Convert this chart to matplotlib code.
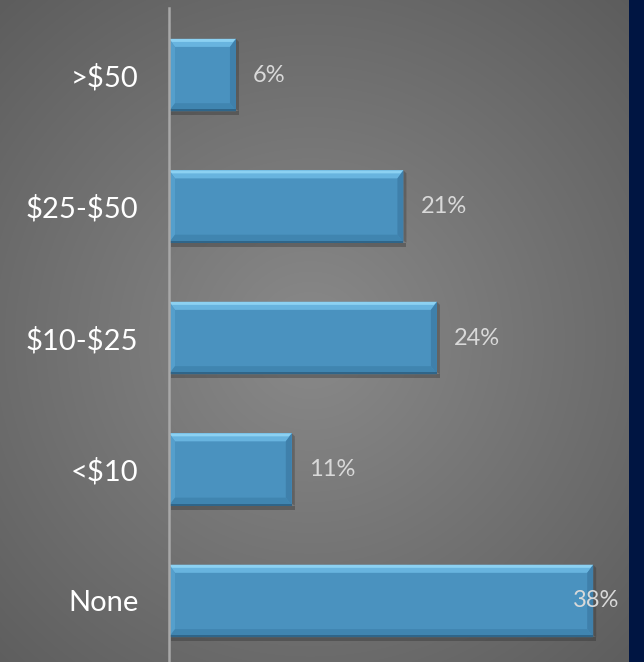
import matplotlib
matplotlib.use("Agg")
import matplotlib.pyplot as plt
import numpy as np
from matplotlib.patches import Polygon

categories = ["None", "<$10", "$10-$25", "$25-$50", ">$50"]
values = [38, 11, 24, 21, 6]
labels = ["38%", "11%", "24%", "21%", "6%"]

plt.rcParams['font.family'] = ['Lato', 'DejaVu Sans']

W, H = 644, 662
fig = plt.figure(figsize=(W / 100, H / 100), dpi=100)

# background: radial grey gradient + navy strip on the right
bg = fig.add_axes([0, 0, 1, 1])
yy, xx = np.mgrid[0:H, 0:W]
r = np.sqrt(((xx - 310) / 420.0) ** 2 + ((yy - 340) / 420.0) ** 2)
g = np.clip(0.54 - 0.16 * r, 0, 1)
img = np.dstack([g, g, g])
img[:, 629:, :] = np.array([0, 21, 66]) / 255.0
bg.imshow(img, aspect='auto', extent=[0, W, H, 0])
bg.set_axis_off()

ax = fig.add_axes([169 / W, 0, 451 / W, (H - 8) / H])
ax.set_facecolor('none')
xmax = 40.4
ax.set_xlim(0, xmax)
ax.set_ylim(-0.464, 4.51)
pos = np.arange(len(categories))
bh = 0.55

ax.barh(pos, values, height=bh, color='#4a92bf', zorder=3)

# bevel pieces, sized in pixels and converted to data units
px_x = xmax / 451.0
px_y = (4.51 + 0.464) / (H - 8)
bx, by = 6 * px_x, 8 * px_y
for p, v in zip(pos, values):
    x0, x1 = 0, v
    y0, y1 = p - bh / 2, p + bh / 2
    # shadow
    ax.add_patch(Polygon([(x0 + 2 * px_x, y0), (x1 + 3 * px_x, y0), (x1 + 3 * px_x, y0 - 4 * px_y), (x0 + 2 * px_x, y0 - 4 * px_y)],
                         closed=True, color='#2a2a2a', alpha=0.35, lw=0, zorder=2))
    ax.add_patch(Polygon([(x1, y0 + 2 * px_y), (x1 + 3 * px_x, y0), (x1 + 3 * px_x, y1 - 3 * px_y), (x1, y1)],
                         closed=True, color='#2a2a2a', alpha=0.3, lw=0, zorder=2))
    ax.add_patch(Polygon([(x0, y1), (x1, y1), (x1 - bx, y1 - by), (x0 + bx, y1 - by)],
                         closed=True, color='#68b4df', lw=0, zorder=4))
    ax.add_patch(Polygon([(x0, y1), (x1, y1), (x1 - 3 * px_x, y1 - 3 * px_y), (x0 + 3 * px_x, y1 - 3 * px_y)],
                         closed=True, color='#8cd1f2', lw=0, zorder=4))
    ax.add_patch(Polygon([(x0, y0), (x0, y1), (x0 + bx, y1 - by), (x0 + bx, y0 + by)],
                         closed=True, color='#559fcc', lw=0, zorder=4))
    ax.add_patch(Polygon([(x1, y0), (x1, y1), (x1 - bx, y1 - by), (x1 - bx, y0 + by)],
                         closed=True, color='#3f80ab', lw=0, zorder=4))
    ax.add_patch(Polygon([(x0, y0), (x1, y0), (x1 - bx, y0 + by), (x0 + bx, y0 + by)],
                         closed=True, color='#4085b0', lw=0, zorder=4))
    ax.add_patch(Polygon([(x0, y0), (x1, y0), (x1, y0 + 2 * px_y), (x0, y0 + 2 * px_y)],
                         closed=True, color='#2f6589', lw=0, zorder=4))

for p, v, lab in zip(pos, values, labels):
    if v + 6 > xmax:
        ax.text(xmax - 0.1, p, lab, ha='right', va='center', color='#d9d9d9', fontsize=17, zorder=5)
    else:
        ax.annotate(lab, (v, p), xytext=(17, 0), textcoords='offset pixels',
                    ha='left', va='center', color='#d9d9d9', fontsize=17, zorder=5)

ax.set_yticks(pos)
ax.set_yticklabels(categories, color='white', fontsize=21)
for t in ax.get_yticklabels():
    t.set_parse_math(False)
ax.tick_params(axis='y', length=0, pad=22)
ax.set_xticks([])
for s in ['top', 'right', 'bottom']:
    ax.spines[s].set_visible(False)
ax.spines['left'].set_color('#a8a8a8')
ax.spines['left'].set_linewidth(1.8)
ax.spines['left'].set_zorder(6)

fig.savefig('out.png', dpi=100)
